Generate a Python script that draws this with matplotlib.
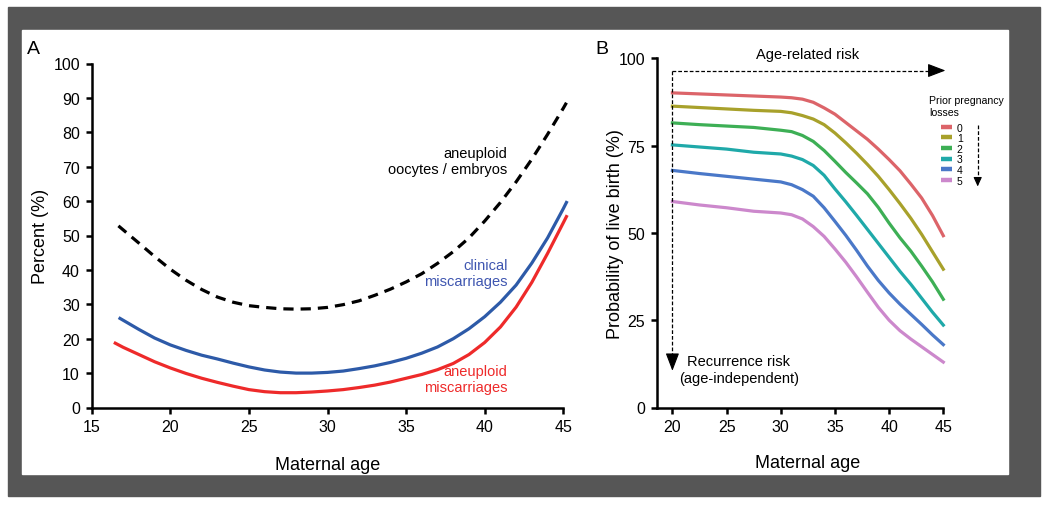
import numpy as np
import matplotlib.pyplot as plt
from matplotlib.lines import Line2D
from matplotlib.patches import Rectangle

plt.rcParams['font.family'] = ['Liberation Sans', 'DejaVu Sans']

# ---- panel A: percent by maternal age ----
age_embryo = [16.7, 18, 19, 20, 21, 22, 23, 24, 25, 26, 27, 28, 29, 30, 31, 32, 33,
              34, 35, 36, 37, 38, 39, 40, 41, 42, 43, 44, 45, 45.2]
pct_embryo = [52.8, 47.8, 43.9, 40.2, 37.0, 34.3, 32.1, 30.6, 29.6, 29.1, 28.7, 28.6,
              28.7, 29.1, 29.9, 31.0, 32.6, 34.4, 36.5, 38.9, 41.9, 45.3, 49.3, 54.2,
              59.6, 65.6, 72.2, 79.4, 87.0, 88.6]

age_clin = [16.8, 18, 19, 20, 21, 22, 23, 24, 25, 26, 27, 28, 29, 30, 31, 32, 33, 34,
            35, 36, 37, 38, 39, 40, 41, 42, 43, 44, 45, 45.2]
pct_clin = [25.9, 22.7, 20.2, 18.2, 16.6, 15.2, 14.1, 12.9, 11.8, 10.9, 10.3, 10.0,
            10.0, 10.2, 10.6, 11.3, 12.1, 13.1, 14.3, 15.8, 17.6, 20.0, 22.9, 26.4,
            30.6, 35.6, 42.0, 49.3, 57.8, 59.6]

age_aneu = [16.5, 17, 18, 19, 20, 21, 22, 23, 24, 25, 26, 27, 28, 29, 30, 31, 32, 33,
            34, 35, 36, 37, 38, 39, 40, 41, 42, 43, 44, 45, 45.2]
pct_aneu = [18.7, 17.5, 15.4, 13.3, 11.5, 9.9, 8.5, 7.3, 6.2, 5.2, 4.6, 4.3, 4.3, 4.5,
            4.8, 5.2, 5.8, 6.5, 7.4, 8.5, 9.6, 11.0, 12.8, 15.4, 18.9, 23.4, 29.2, 36.4,
            44.8, 53.7, 55.5]

# ---- panel B: probability of live birth ----
age_b = [20, 22.5, 25, 27.5, 30, 31, 32, 33, 34, 35, 36, 37, 38, 39, 40, 41, 42, 43, 44, 45]
live_0 = [90.1, 89.8, 89.5, 89.2, 88.9, 88.7, 88.3, 87.4, 85.8, 84.0, 81.6, 79.2, 76.8,
          74.0, 71.0, 67.8, 64.0, 60.0, 55.0, 49.2]
live_1 = [86.3, 85.9, 85.5, 85.1, 84.8, 84.4, 83.6, 82.6, 81.0, 78.6, 75.8, 72.8, 69.6,
          66.2, 62.4, 58.4, 54.2, 49.6, 44.6, 39.6]
live_2 = [81.5, 81.0, 80.6, 80.2, 79.4, 79.0, 77.9, 76.2, 73.6, 70.5, 67.3, 64.3, 61.2,
          57.3, 52.8, 48.6, 44.8, 40.5, 36.0, 31.0]
live_3 = [75.2, 74.6, 74.0, 73.1, 72.6, 72.0, 71.0, 69.3, 66.5, 62.6, 58.9, 55.0, 51.0,
          47.0, 43.0, 39.0, 35.3, 31.3, 27.3, 23.6]
live_4 = [67.9, 67.0, 66.2, 65.4, 64.6, 63.8, 62.4, 60.5, 57.2, 53.3, 49.3, 45.0, 40.5,
          36.4, 32.8, 29.6, 26.7, 23.8, 20.8, 18.0]
live_5 = [59.0, 58.0, 57.2, 56.2, 55.7, 55.2, 54.0, 51.8, 49.0, 45.4, 41.6, 37.4, 33.0,
          28.7, 25.0, 22.0, 19.6, 17.4, 15.2, 13.0]
losses = ['0', '1', '2', '3', '4', '5']
loss_colors = ['#dc6469', '#a8a12b', '#3daf55', '#1fa9a9', '#4a78c8', '#cc88cc']

W, H = 1050, 506
fig = plt.figure(figsize=(W / 100, H / 100), dpi=100)

# grey frame + white board
fig.patches.append(Rectangle((8 / W, 1 - 497 / H), 1032 / W, 489 / H,
                             transform=fig.transFigure, color='#565656', zorder=-10))
fig.patches.append(Rectangle((22 / W, 1 - 475 / H), 986 / W, 444 / H,
                             transform=fig.transFigure, color='white', zorder=-9))


def style_axes(ax):
    ax.set_facecolor('none')
    for s in ['top', 'right']:
        ax.spines[s].set_visible(False)
    for s in ['left', 'bottom']:
        ax.spines[s].set_linewidth(1.8)
    ax.tick_params(direction='out', length=4.5, width=1.8, labelsize=11.5, pad=4)


# ---------------- panel A ----------------
axA = fig.add_axes([91.7 / W, 1 - 408.5 / H, 471.6 / W, 344 / H])
style_axes(axA)
axA.plot(age_embryo, pct_embryo, color='black', lw=2.3, dashes=(3.2, 2.2),
         solid_joinstyle='round', clip_on=False)
axA.plot(age_clin, pct_clin, color='#2d5aa8', lw=2.3, solid_joinstyle='round', clip_on=False)
axA.plot(age_aneu, pct_aneu, color='#ee2a2a', lw=2.3, solid_joinstyle='round', clip_on=False)
axA.set_xlim(15, 45)
axA.set_ylim(0, 100)
axA.set_xticks(range(15, 46, 5))
axA.set_yticks(range(0, 101, 10))
axA.set_xlabel('Maternal age', fontsize=13)
axA.set_ylabel('Percent (%)', fontsize=13)
axA.xaxis.set_label_coords(0.5, -0.141)
axA.yaxis.set_label_coords(-0.0895, 0.5)

axA.text(41.46, 71.7, 'aneuploid\noocytes / embryos', ha='right', va='center',
         fontsize=10.5, linespacing=1.2, color='black')
axA.text(41.46, 39.1, 'clinical\nmiscarriages', ha='right', va='center',
         fontsize=10.5, linespacing=1.2, color='#3f56b0')
axA.text(41.46, 8.4, 'aneuploid\nmiscarriages', ha='right', va='center',
         fontsize=10.5, linespacing=1.2, color='#ee2a2a')
fig.text(33.8 / W, 1 - 50 / H, 'A', fontsize=14, ha='center', va='center')

# ---------------- panel B ----------------
axB = fig.add_axes([656.7 / W, 1 - 408.5 / H, 286.6 / W, 349.2 / H])
style_axes(axB)
for ys, c, lab in zip([live_0, live_1, live_2, live_3, live_4, live_5], loss_colors, losses):
    axB.plot(age_b, ys, color=c, lw=2.3, label=lab, solid_joinstyle='round', clip_on=False)
axB.set_xlim(18.55, 45)
axB.set_ylim(0, 100)
axB.set_xticks(range(20, 46, 5))
axB.set_yticks([0, 25, 50, 75, 100])
axB.set_xlabel('Maternal age', fontsize=13)
axB.set_ylabel('Probability of live birth (%)', fontsize=13)
axB.xaxis.set_label_coords(0.527, -0.133)
axB.yaxis.set_label_coords(-0.114, 0.5)
fig.text(602 / W, 1 - 49.7 / H, 'B', fontsize=14, ha='center', va='center')

# dashed arrows
arr_y = 96.5
axB.plot([20, 44.6], [arr_y, arr_y], color='black', lw=0.9, dashes=(3, 1.6), clip_on=False)
axB.plot([20, 20], [arr_y, 12.5], color='black', lw=0.9, dashes=(3, 1.6), clip_on=False)
head = dict(arrowstyle='-|>,head_length=1.1,head_width=0.42', color='black', lw=0.8,
            shrinkA=0, shrinkB=0, mutation_scale=10)
axB.annotate('', xy=(45.2, arr_y), xytext=(44.0, arr_y), arrowprops=head,
             annotation_clip=False)
axB.annotate('', xy=(20, 10.5), xytext=(20, 14.5), arrowprops=head,
             annotation_clip=False)
axB.text(32.5, 101.3, 'Age-related risk', ha='center', va='center', fontsize=10.5)
axB.text(26.14, 10.9, 'Recurrence risk\n(age-independent)', ha='center', va='center',
         fontsize=10.5, linespacing=1.2)

# legend
fig.text(929.3 / W, 1 - 107 / H, 'Prior pregnancy\nlosses', ha='left', va='center',
         fontsize=7.6, linespacing=1.25)
handles = [Line2D([], [], color=c, lw=3.2, solid_capstyle='butt') for c in loss_colors]
axB.legend(handles, losses, loc='upper left', bbox_to_anchor=(940.7 / W, 1 - 123.5 / H),
           bbox_transform=fig.transFigure, frameon=False, fontsize=7.5,
           handlelength=1.1, handletextpad=0.45, labelspacing=0.06,
           borderpad=0, borderaxespad=0)
fig.add_artist(Line2D([977.7 / W, 977.7 / W], [1 - 125.7 / H, 1 - 182 / H],
                      color='black', lw=0.9, dashes=(3, 1.6)))
axB.annotate('', xy=(977.7 / W, 1 - 187.5 / H), xytext=(977.7 / W, 1 - 181 / H),
             xycoords='figure fraction', textcoords='figure fraction',
             arrowprops=dict(arrowstyle='-|>,head_length=0.55,head_width=0.25',
                             color='black', lw=0.8, shrinkA=0, shrinkB=0,
                             mutation_scale=10))

fig.savefig('out.png', dpi=100)
